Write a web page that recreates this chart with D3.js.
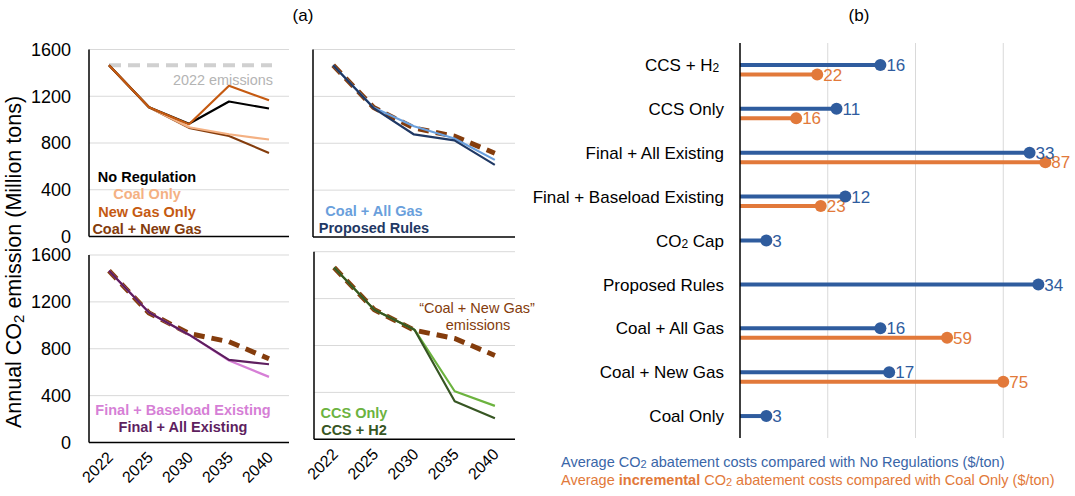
<!DOCTYPE html>
<html>
<head>
<meta charset="utf-8">
<script src="https://cdn.jsdelivr.net/npm/d3@7"></script>
<style>
  body { margin: 0; background: #fff; }
  text { font-family: "Liberation Sans", Arial, sans-serif; }
</style>
</head>
<body>
<svg id="chart" width="1075" height="496"></svg>
<script>
// ---- data (a): annual CO2 emission, million tons
const years = ["2022", "2025", "2030", "2035", "2040"];
const emissions2022 = 1465;
const noRegulation = [1465, 1105, 965, 1155, 1095];
const coalOnly = [1465, 1105, 935, 875, 830];
const newGasOnly = [1465, 1105, 960, 1290, 1165];
const coalNewGas = [1465, 1105, 930, 860, 715];
const coalAllGas = [1465, 1105, 945, 840, 658];
const proposedRules = [1465, 1100, 875, 825, 615];
const finalBaseload = [1465, 1110, 920, 700, 560];
const finalAllExisting = [1465, 1110, 920, 705, 668];
const ccsOnly = [1465, 1105, 935, 410, 285];
const ccsH2 = [1465, 1105, 935, 325, 180];
const yTicks = [0, 400, 800, 1200, 1600];

// ---- data (b): abatement costs, $/ton
const scenarios = ["CCS + H2", "CCS Only", "Final + All Existing", "Final + Baseload Existing",
  "CO2 Cap", "Proposed Rules", "Coal + All Gas", "Coal + New Gas", "Coal Only"];
const avgCost = [16, 11, 33, 12, 3, 34, 16, 17, 3];
const incrementalCost = [22, 16, 87, 23, null, null, 59, 75, null];

const svg = d3.select("#chart");

const C = {
  noReg: "#000000", coal: "#f4b183", newGas: "#c55a11", coalNew: "#843c0c",
  allGas: "#6a9fdc", proposed: "#1f3864", baseload: "#d67fd6", allExist: "#5e1f5f",
  ccs: "#6cb33f", ccsH2: "#375623", grid: "#d9d9d9", blue: "#2f5c9e", orange: "#e2793a"
};

// titles
svg.append("text").attr("x", 303).attr("y", 21).attr("text-anchor", "middle")
  .attr("font-size", 17).text("(a)");
svg.append("text").attr("x", 859).attr("y", 21).attr("text-anchor", "middle")
  .attr("font-size", 17).text("(b)");

// y axis title
const yt = svg.append("text")
  .attr("transform", "translate(21,262) rotate(-90)")
  .attr("text-anchor", "middle").attr("font-size", 21.5);
yt.append("tspan").text("Annual CO");
yt.append("tspan").attr("font-size", 15).attr("dy", 3).text("2");
yt.append("tspan").attr("dy", -3).text(" emission (Million tons)");

const panels = [
  { x0: 89, x1: 289, y0: 49.5, y1: 236.5, yLabels: true, xLabels: false, dashed: false,
    series: [[coalNewGas, C.coalNew], [coalOnly, C.coal], [noRegulation, C.noReg], [newGasOnly, C.newGas]],
    legend: [["No Regulation", C.noReg], ["Coal Only", C.coal], ["New Gas Only", C.newGas], ["Coal + New Gas", C.coalNew]],
    lx: 147, ly: 177, lstep: 17.2 },
  { x0: 313, x1: 515, y0: 49.5, y1: 237, yLabels: false, xLabels: false, dashed: true,
    series: [[coalAllGas, C.allGas], [proposedRules, C.proposed]],
    legend: [["Coal + All Gas", C.allGas], ["Proposed Rules", C.proposed]],
    lx: 374, ly: 211, lstep: 17 },
  { x0: 89, x1: 289, y0: 255, y1: 442.5, yLabels: true, xLabels: true, dashed: true,
    series: [[finalBaseload, C.baseload], [finalAllExisting, C.allExist]],
    legend: [["Final + Baseload Existing", C.baseload], ["Final + All Existing", C.allExist]],
    lx: 183, ly: 410, lstep: 16.8 },
  { x0: 314, x1: 515, y0: 251.7, y1: 439.3, yLabels: false, xLabels: true, dashed: true,
    series: [[ccsOnly, C.ccs], [ccsH2, C.ccsH2]],
    legend: [["CCS Only", C.ccs], ["CCS + H2", C.ccsH2]],
    lx: 354, ly: 412.7, lstep: 16.7 }
];

panels.forEach(function (p, i) {
  const g = svg.append("g");
  const x = d3.scalePoint().domain(years).range([p.x0, p.x1]).padding(0.5);
  const y = d3.scaleLinear().domain([0, 1600]).range([p.y1, p.y0]);

  g.selectAll(".grid").data(yTicks.slice(1)).join("line")
    .attr("x1", p.x0).attr("x2", p.x1)
    .attr("y1", d => y(d)).attr("y2", d => y(d))
    .attr("stroke", C.grid).attr("stroke-width", 1);

  if (p.yLabels) {
    g.selectAll(".yl").data(yTicks).join("text")
      .attr("x", 71).attr("y", d => y(d)).attr("dy", "0.36em")
      .attr("text-anchor", "end").attr("font-size", 18).text(d => d);
  }
  if (p.xLabels) {
    g.selectAll(".xl").data(years).join("text")
      .attr("transform", d => `translate(${x(d) + 5},${p.y1 + 16}) rotate(-45)`)
      .attr("text-anchor", "end").attr("font-size", 16).text(d => d);
  }

  const line = d3.line().x((d, j) => x(years[j])).y(d => y(d));

  if (i === 0) {
    g.append("line")
      .attr("x1", x(years[0])).attr("x2", x(years[4]) + 3)
      .attr("y1", y(emissions2022)).attr("y2", y(emissions2022))
      .attr("stroke", "#d0d0d0").attr("stroke-width", 4).attr("stroke-dasharray", "12,7");
    g.append("text").attr("x", 223).attr("y", y(emissions2022) + 20)
      .attr("text-anchor", "middle").attr("font-size", 14.4).attr("fill", "#b4b4b4")
      .text("2022 emissions");
  }
  if (p.dashed) {
    g.append("path").attr("d", line(coalNewGas)).attr("fill", "none")
      .attr("stroke", C.coalNew).attr("stroke-width", 5).attr("stroke-dasharray", "11,7");
  }
  p.series.forEach(function (s) {
    g.append("path").attr("d", line(s[0])).attr("fill", "none")
      .attr("stroke", s[1]).attr("stroke-width", 2.2).attr("stroke-linejoin", "round");
  });

  // axes
  g.append("line").attr("x1", p.x0).attr("x2", p.x0).attr("y1", p.y0).attr("y2", p.y1)
    .attr("stroke", "#000").attr("stroke-width", 1.5);
  g.append("line").attr("x1", p.x0).attr("x2", p.x1).attr("y1", p.y1).attr("y2", p.y1)
    .attr("stroke", "#000").attr("stroke-width", 1.5);

  g.selectAll(".lg").data(p.legend).join("text")
    .attr("x", p.lx).attr("y", (d, j) => p.ly + j * p.lstep).attr("dy", "0.36em")
    .attr("text-anchor", "middle").attr("font-size", 14.5).attr("font-weight", "bold")
    .attr("fill", d => d[1]).text(d => d[0]);

  if (i === 3) {
    const t = g.append("text").attr("text-anchor", "middle").attr("font-size", 14.5)
      .attr("fill", C.coalNew);
    t.append("tspan").attr("x", 477).attr("y", 313).text("\u201CCoal + New Gas\u201D");
    t.append("tspan").attr("x", 478).attr("y", 330).text("emissions");
  }
});

// ---- (b) lollipops
const xb = d3.scaleLinear().domain([0, 40]).range([740, 1091]);
const xo = d3.scaleLinear().domain([0, 100]).range([740, 1091]);
const yb = d3.scaleBand().domain(scenarios).range([43, 438]);
const off = 9.5;
const gb = svg.append("g");

gb.selectAll(".bg").data([10, 20, 30]).join("line")
  .attr("x1", d => xb(d)).attr("x2", d => xb(d)).attr("y1", 43).attr("y2", 438)
  .attr("stroke", C.grid).attr("stroke-width", 1);

const rows = scenarios.map((s, i) => ({ s: s, a: avgCost[i], b: incrementalCost[i] }));
const cy = d => yb(d.s) + yb.bandwidth() / 2;

// category labels (the "2" in H2 / CO2 is set smaller)
gb.selectAll(".cat").data(rows).join("text")
  .attr("x", 724).attr("y", cy).attr("dy", "0.36em").attr("text-anchor", "end")
  .attr("font-size", 17)
  .each(function (d) {
    const t = d3.select(this);
    const k = d.s.search(/[A-Z]2/);
    if (k >= 0) {
      t.append("tspan").text(d.s.slice(0, k + 1));
      t.append("tspan").attr("font-size", 12).attr("dy", 1).text("2");
      t.append("tspan").attr("dy", -1).text(d.s.slice(k + 2) || "\u00A0");
    } else {
      t.text(d.s);
    }
  });

const inc = rows.filter(d => d.b !== null);
gb.selectAll(".ol").data(inc).join("line")
  .attr("x1", 740).attr("x2", d => xo(d.b)).attr("y1", d => cy(d) + off).attr("y2", d => cy(d) + off)
  .attr("stroke", C.orange).attr("stroke-width", 4);
gb.selectAll(".od").data(inc).join("circle")
  .attr("cx", d => xo(d.b)).attr("cy", d => cy(d) + off).attr("r", 6).attr("fill", C.orange);
gb.selectAll(".ot").data(inc).join("text")
  .attr("x", d => xo(d.b) + 6).attr("y", d => cy(d) + off).attr("dy", "0.36em")
  .attr("font-size", 17).attr("fill", C.orange).text(d => d.b);

gb.selectAll(".bl").data(rows).join("line")
  .attr("x1", 740).attr("x2", d => xb(d.a)).attr("y1", cy).attr("y2", cy)
  .attr("stroke", C.blue).attr("stroke-width", 4);
gb.selectAll(".bd").data(rows).join("circle")
  .attr("cx", d => xb(d.a)).attr("cy", cy).attr("r", 6).attr("fill", C.blue);
gb.selectAll(".bt").data(rows).join("text")
  .attr("x", d => xb(d.a) + 6).attr("y", cy).attr("dy", "0.36em")
  .attr("font-size", 17).attr("fill", C.blue).text(d => d.a);

gb.append("line").attr("x1", 740).attr("x2", 740).attr("y1", 43).attr("y2", 438)
  .attr("stroke", "#000").attr("stroke-width", 1.5);

// legend (b)
const l1 = gb.append("text").attr("x", 561).attr("y", 467).attr("font-size", 14.5).attr("fill", "#3a66a8");
l1.append("tspan").text("Average CO");
l1.append("tspan").attr("font-size", 11).attr("dy", 1).text("2");
l1.append("tspan").attr("dy", -1).text(" abatement costs compared with No Regulations ($/ton)");
const l2 = gb.append("text").attr("x", 561).attr("y", 485).attr("font-size", 14.5).attr("fill", C.orange);
l2.append("tspan").text("Average ");
l2.append("tspan").attr("font-weight", "bold").text("incremental");
l2.append("tspan").text(" CO");
l2.append("tspan").attr("font-size", 11).attr("dy", 1).text("2");
l2.append("tspan").attr("dy", -1).text(" abatement costs compared with Coal Only ($/ton)");
</script>
</body>
</html>
